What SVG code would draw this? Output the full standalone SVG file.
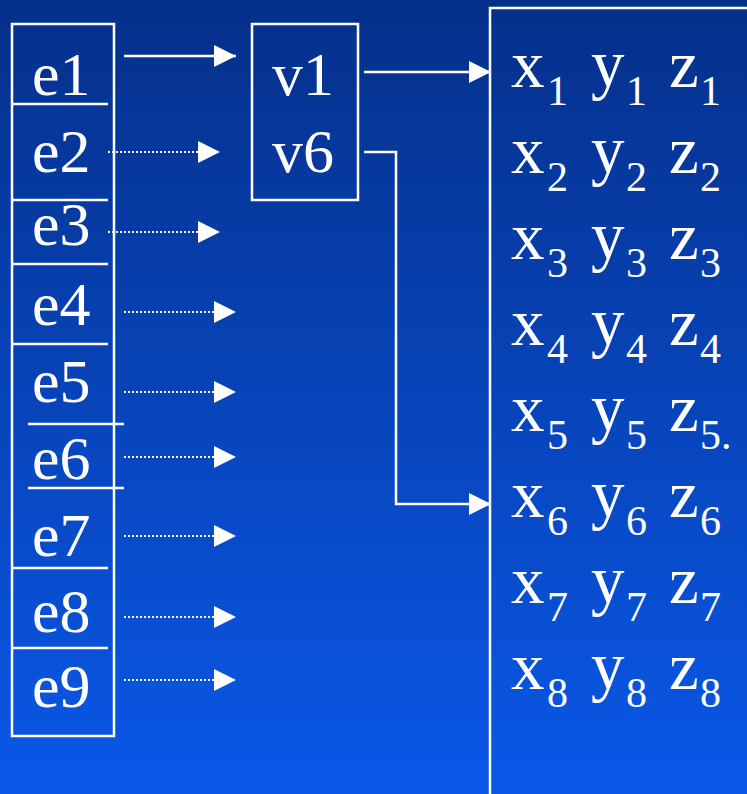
<svg xmlns="http://www.w3.org/2000/svg" width="747" height="794" viewBox="0 0 747 794">
<defs>
<linearGradient id="bg" x1="0" y1="0" x2="0" y2="1">
<stop offset="0" stop-color="#05308a"/>
<stop offset="1" stop-color="#0a58e8"/>
</linearGradient>
<marker id="ah" viewBox="0 0 22 22" refX="22" refY="11" markerWidth="22" markerHeight="22" markerUnits="userSpaceOnUse" orient="auto">
<path d="M0,0 L22,11 L0,22 Z" fill="#fff"/>
</marker>
<style>
.box{fill:none;stroke:#fff;stroke-width:2.5}
.div{stroke:#fff;stroke-width:2.5}
.lbl{font-size:62px;fill:#fff}
.big{font-size:67px;fill:#fff}
.sub{font-size:42px}
.solid{fill:none;stroke:#fff;stroke-width:2.5;marker-end:url(#ah)}
.dot{fill:none;stroke:#fff;stroke-width:2;stroke-dasharray:2 2;marker-end:url(#ah)}
</style>
</defs>
<rect width="747" height="794" fill="url(#bg)"/>
<g id="edges-list" font-family="Liberation Serif, Times New Roman, serif">
<rect class="box" x="12" y="24" width="102" height="712"/>
<line class="div" x1="12" y1="104" x2="108" y2="104"/>
<line class="div" x1="12" y1="200" x2="108" y2="200"/>
<line class="div" x1="12" y1="264" x2="108" y2="264"/>
<line class="div" x1="12" y1="344" x2="108" y2="344"/>
<line class="div" x1="28" y1="424" x2="124" y2="424"/>
<line class="div" x1="28" y1="488" x2="124" y2="488"/>
<line class="div" x1="12" y1="568" x2="108" y2="568"/>
<line class="div" x1="12" y1="648" x2="108" y2="648"/>
<text class="lbl" x="32" y="95">e1</text>
<text class="lbl" x="32" y="172">e2</text>
<text class="lbl" x="32" y="245">e3</text>
<text class="lbl" x="32" y="325">e4</text>
<text class="lbl" x="32" y="402">e5</text>
<text class="lbl" x="32" y="479">e6</text>
<text class="lbl" x="32" y="556">e7</text>
<text class="lbl" x="32" y="632">e8</text>
<text class="lbl" x="32" y="707">e9</text>
</g>
<g id="vertex-refs" font-family="Liberation Serif, Times New Roman, serif">
<rect class="box" x="252" y="24" width="106" height="176"/>
<text class="lbl" x="272" y="95">v1</text>
<text class="lbl" x="272" y="172">v6</text>
</g>
<g id="coords" font-family="Liberation Serif, Times New Roman, serif">
<rect class="box" x="490" y="8" width="300" height="820"/>
<text class="big" x="511" y="87">x<tspan class="sub" x="547" y="105">1</tspan><tspan x="591" y="87">y</tspan><tspan class="sub" x="626" y="105">1</tspan><tspan x="669" y="87">z</tspan><tspan class="sub" x="700" y="105">1</tspan></text>
<text class="big" x="511" y="173">x<tspan class="sub" x="547" y="191">2</tspan><tspan x="591" y="173">y</tspan><tspan class="sub" x="626" y="191">2</tspan><tspan x="669" y="173">z</tspan><tspan class="sub" x="700" y="191">2</tspan></text>
<text class="big" x="511" y="259">x<tspan class="sub" x="547" y="277">3</tspan><tspan x="591" y="259">y</tspan><tspan class="sub" x="626" y="277">3</tspan><tspan x="669" y="259">z</tspan><tspan class="sub" x="700" y="277">3</tspan></text>
<text class="big" x="511" y="345">x<tspan class="sub" x="547" y="363">4</tspan><tspan x="591" y="345">y</tspan><tspan class="sub" x="626" y="363">4</tspan><tspan x="669" y="345">z</tspan><tspan class="sub" x="700" y="363">4</tspan></text>
<text class="big" x="511" y="431">x<tspan class="sub" x="547" y="449">5</tspan><tspan x="591" y="431">y</tspan><tspan class="sub" x="626" y="449">5</tspan><tspan x="669" y="431">z</tspan><tspan class="sub" x="700" y="449">5.</tspan></text>
<text class="big" x="511" y="517">x<tspan class="sub" x="547" y="535">6</tspan><tspan x="591" y="517">y</tspan><tspan class="sub" x="626" y="535">6</tspan><tspan x="669" y="517">z</tspan><tspan class="sub" x="700" y="535">6</tspan></text>
<text class="big" x="511" y="603">x<tspan class="sub" x="547" y="621">7</tspan><tspan x="591" y="603">y</tspan><tspan class="sub" x="626" y="621">7</tspan><tspan x="669" y="603">z</tspan><tspan class="sub" x="700" y="621">7</tspan></text>
<text class="big" x="511" y="689">x<tspan class="sub" x="547" y="707">8</tspan><tspan x="591" y="689">y</tspan><tspan class="sub" x="626" y="707">8</tspan><tspan x="669" y="689">z</tspan><tspan class="sub" x="700" y="707">8</tspan></text>
</g>
<g id="connectors">
<line class="solid" x1="124" y1="56" x2="236" y2="56"/>
<line class="dot" x1="108" y1="152" x2="220" y2="152"/>
<line class="dot" x1="108" y1="232" x2="220" y2="232"/>
<line class="dot" x1="124" y1="312" x2="236" y2="312"/>
<line class="dot" x1="124" y1="392" x2="236" y2="392"/>
<line class="dot" x1="124" y1="457" x2="236" y2="457"/>
<line class="dot" x1="124" y1="536" x2="236" y2="536"/>
<line class="dot" x1="124" y1="617" x2="236" y2="617"/>
<line class="dot" x1="124" y1="680" x2="236" y2="680"/>
<line class="solid" x1="364" y1="72" x2="491" y2="72"/>
<polyline class="solid" points="364,152 396,152 396,504 491,504"/>
</g>
</svg>
